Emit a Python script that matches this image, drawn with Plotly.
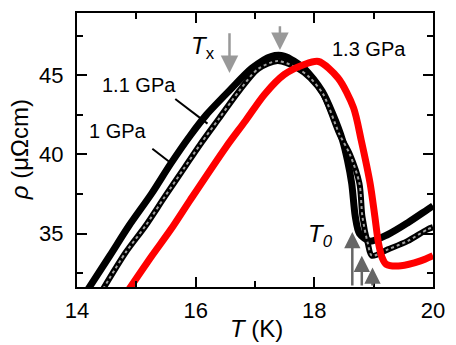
import plotly.graph_objects as go

# 1.1 GPa (black solid)
T_11 = [14.19, 14.55, 14.87, 15.26, 15.58, 15.91, 16.18, 16.56, 16.95, 17.27, 17.49, 17.82,
        18.13, 18.31, 18.475, 18.56, 18.63, 18.69, 18.76, 18.94, 19.24, 19.57, 19.90, 20.0]
R_11 = [31.5, 33.58, 35.46, 37.54, 39.42, 41.2, 42.5, 44.0, 45.46, 46.19, 46.22, 45.46,
        44.0, 42.56, 40.9, 39.6, 38.17, 36.08, 35.0, 34.52, 34.94, 35.67, 36.5, 36.75]

# 1 GPa (open circles)
T_10 = [14.44, 14.82, 15.15, 15.48, 15.80, 16.07, 16.40, 16.73, 17.05, 17.38, 17.71, 17.93,
        18.15, 18.42, 18.60, 18.76, 18.81, 18.90, 18.97, 19.24, 19.57, 19.90, 20.0]
R_10 = [31.5, 33.8, 35.46, 37.33, 39.1, 40.6, 42.3, 44.0, 45.4, 45.9, 45.46, 44.83,
        43.8, 41.3, 40.0, 38.17, 36.08, 34.4, 33.6, 34.0, 34.52, 35.25, 35.4]

# 1.3 GPa (red)
T_13 = [14.88, 15.26, 15.58, 15.91, 16.51, 16.84, 17.16, 17.49, 17.82, 18.07, 18.40, 18.66,
        18.79, 18.94, 19.02, 19.08, 19.14, 19.21, 19.46, 19.79, 20.0]
R_13 = [31.5, 33.58, 35.25, 37.13, 40.46, 42.13, 43.79, 45.04, 45.67, 45.875, 44.83, 42.96,
        40.9, 38.17, 36.08, 34.42, 33.5, 33.06, 32.96, 33.27, 33.6]

# arrows: Tx (pointing down) and T0 (pointing up)
TX_T = [16.57, 17.42]
TX_TOP = [47.75, 48.19]
TX_TIP = [45.15, 46.6]
T0_T = [18.64, 18.80, 18.98]
T0_TIP = [35.1, 33.6, 32.86]
T0_BASE = 31.62

FONT = "Liberation Sans, Arial, sans-serif"

fig = go.Figure()
fig.add_trace(go.Scatter(x=T_11, y=R_11, mode="lines",
                         line=dict(color="black", width=7, shape="spline", smoothing=0.8),
                         showlegend=False))
fig.add_trace(go.Scatter(x=T_10, y=R_10, mode="lines",
                         line=dict(color="black", width=6, shape="spline", smoothing=0.8),
                         showlegend=False))
fig.add_trace(go.Scatter(x=T_10, y=R_10, mode="lines",
                         line=dict(color="#a0a0a0", width=2, dash="dot", shape="spline", smoothing=0.8),
                         showlegend=False))
fig.add_trace(go.Scatter(x=T_13, y=R_13, mode="lines",
                         line=dict(color="#ff0000", width=7, shape="spline", smoothing=0.8),
                         showlegend=False))

anns = []
for t, top, tip in zip(TX_T, TX_TOP, TX_TIP):
    anns.append(dict(x=t, y=tip, ax=t, ay=top, xref="x", yref="y", axref="x", ayref="y",
                     text="", showarrow=True, arrowhead=2, arrowsize=1.4, arrowwidth=2.5,
                     arrowcolor="#999999", standoff=0))
for t, tip in zip(T0_T, T0_TIP):
    anns.append(dict(x=t, y=tip, ax=t, ay=T0_BASE, xref="x", yref="y", axref="x", ayref="y",
                     text="", showarrow=True, arrowhead=2, arrowsize=1.3, arrowwidth=2.5,
                     arrowcolor="#666666", standoff=0))

labels = [
    (16.13, 46.75, "<i>T</i><sub>x</sub>", 24),
    (18.10, 34.875, "<i>T</i><sub><i>0</i></sub>", 24),
    (15.05, 44.375, "1.1 GPa", 20),
    (14.69, 41.5, "1 GPa", 20),
    (18.92, 46.69, "1.3 GPa", 20),
]
for x, y, txt, sz in labels:
    anns.append(dict(x=x, y=y, xref="x", yref="y", text=txt, showarrow=False,
                     xanchor="center", yanchor="middle",
                     font=dict(family=FONT, size=sz, color="black")))

# axis titles
anns.append(dict(x=0.503, y=-0.153, xref="paper", yref="paper", text="<i>T</i> (K)",
                 showarrow=False, xanchor="center", yanchor="middle",
                 font=dict(family=FONT, size=24, color="black")))
anns.append(dict(x=-0.163, y=0.503, xref="paper", yref="paper", text="<i>ρ</i> (μΩcm)",
                 showarrow=False, xanchor="center", yanchor="middle", textangle=-90,
                 font=dict(family=FONT, size=24, color="black")))
fig.update_layout(annotations=anns)

fig.add_shape(type="line", x0=15.656, y0=43.5, x1=16.2, y1=41.95, xref="x", yref="y",
              line=dict(color="black", width=2))
fig.add_shape(type="line", x0=15.27, y0=40.36, x1=15.56, y1=39.52, xref="x", yref="y",
              line=dict(color="black", width=2))

axis_common = dict(showgrid=False, zeroline=False, showline=True, linecolor="black", linewidth=2,
                   mirror="allticks", ticks="inside", ticklen=10, tickwidth=2, tickcolor="black",
                   tickfont=dict(family=FONT, size=22, color="black"))
fig.update_xaxes(range=[14, 20], dtick=2, tick0=14, ticklabelstandoff=3,
                 minor=dict(ticks="inside", ticklen=6, tickwidth=2, tickcolor="black", dtick=1),
                 **axis_common)
fig.update_yaxes(range=[31.62, 48.94], dtick=5, tick0=35, ticklabelstandoff=7,
                 minor=dict(ticks="inside", ticklen=6, tickwidth=2, tickcolor="black", dtick=2.5),
                 **axis_common)
fig.update_layout(width=456, height=345, margin=dict(l=77, r=13, t=11, b=58),
                  plot_bgcolor="white", paper_bgcolor="white")
fig.write_html("out.html")
